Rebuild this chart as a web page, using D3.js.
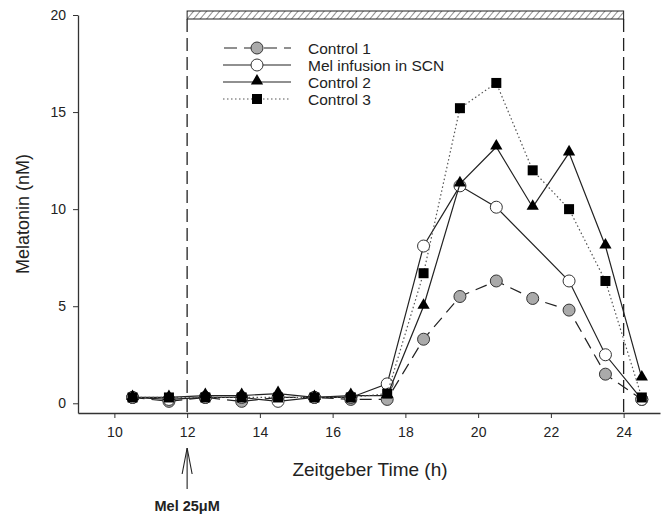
<!DOCTYPE html>
<html>
<head>
<meta charset="utf-8">
<script src="https://cdn.jsdelivr.net/npm/d3@7"></script>
<style>
  body { margin: 0; background: #fff; }
  svg text { font-family: "Liberation Sans", Arial, sans-serif; fill: #222; }
</style>
</head>
<body>
<svg id="chart" width="664" height="520"></svg>
<script>
// time points (ZT, h)
const hours = [10.5, 11.5, 12.5, 13.5, 14.5, 15.5, 16.5, 17.5, 18.5, 19.5, 20.5, 21.5, 22.5, 23.5, 24.5];

// melatonin (nM) per series, null = no sample
const control1 = [0.3, 0.1, 0.3, 0.1, 0.3, 0.3, 0.2, 0.2, 3.3, 5.5, 6.3, 5.4, 4.8, 1.5, 0.2];
const melSCN   = [0.3, 0.2, 0.3, 0.3, 0.1, 0.3, 0.3, 1.0, 8.1, 11.2, 10.1, null, 6.3, 2.5, 0.2];
const control2 = [0.3, 0.3, 0.4, 0.4, 0.5, 0.3, 0.4, 0.4, 5.0, 11.3, 13.2, 10.1, 12.9, 8.1, 1.3];
const control3 = [0.3, 0.3, 0.3, 0.3, 0.3, 0.3, 0.3, 0.5, 6.7, 15.2, 16.5, 12.0, 10.0, 6.3, 0.3];

const seriesNames = ["Control 1", "Mel infusion in SCN", "Control 2", "Control 3"];
const xTicks = [10, 12, 14, 16, 18, 20, 22, 24];
const yTicks = [0, 5, 10, 15, 20];
const darkPeriod = [12, 24];

const svg = d3.select("#chart");

let x = d3.scaleLinear().domain([9, 25]).range([78, 660]);
let y = d3.scaleLinear().domain([-0.5, 20]).range([413, 15]);

// style per series
let styles = [
  { values: control1, dash: "12,7", symbol: "circle", fill: "#aaa" },
  { values: melSCN, dash: null, symbol: "circle", fill: "#fff" },
  { values: control2, dash: null, symbol: "triangle", fill: "#000" },
  { values: control3, dash: "1.5,2.5", symbol: "square", fill: "#000" }
];

// hatch pattern for dark phase bar
let defs = svg.append("defs");
let pat = defs.append("pattern")
  .attr("id", "hatch")
  .attr("patternUnits", "userSpaceOnUse")
  .attr("width", 5).attr("height", 5)
  .attr("patternTransform", "rotate(40)");
pat.append("rect").attr("width", 5).attr("height", 5).attr("fill", "#fff");
pat.append("line").attr("x1", 0).attr("y1", 0).attr("x2", 0).attr("y2", 5)
  .attr("stroke", "#333").attr("stroke-width", 1.1);

// axes
let xAxis = svg.append("g")
  .attr("transform", "translate(0," + y(-0.5) + ")")
  .call(d3.axisBottom(x).tickValues(xTicks).tickSize(5).tickPadding(9).tickSizeOuter(0));
let yAxis = svg.append("g")
  .attr("transform", "translate(" + x(9) + ",0)")
  .call(d3.axisLeft(y).tickValues(yTicks).tickSize(5).tickPadding(7).tickSizeOuter(0));

[xAxis, yAxis].forEach(a => {
  a.select(".domain").attr("stroke", "#333").attr("stroke-width", 1.3);
  a.selectAll(".tick line").attr("stroke", "#333");
  a.selectAll("text").style("font-size", "14px").attr("fill", "#222");
});

// dashed vertical lines at lights off / on
svg.selectAll(".vline")
  .data(darkPeriod)
  .enter()
  .append("line")
  .attr("x1", d => x(d)).attr("x2", d => x(d))
  .attr("y1", 19).attr("y2", y(-0.5))
  .attr("stroke", "#222")
  .attr("stroke-width", 1.3)
  .attr("stroke-dasharray", "13,6");

// hatched bar
svg.append("rect")
  .attr("x", x(darkPeriod[0]))
  .attr("y", 11)
  .attr("width", x(darkPeriod[1]) - x(darkPeriod[0]))
  .attr("height", 8)
  .attr("fill", "url(#hatch)")
  .attr("stroke", "#222")
  .attr("stroke-width", 1);

// symbol helper
function drawSymbol(g, type, fill, cx, cy) {
  if (type === "circle") {
    g.append("circle").attr("cx", cx).attr("cy", cy).attr("r", 6)
      .attr("fill", fill).attr("stroke", "#333").attr("stroke-width", 1);
  } else if (type === "triangle") {
    g.append("path")
      .attr("d", d3.symbol().type(d3.symbolTriangle).size(65)())
      .attr("transform", "translate(" + cx + "," + (cy - 1) + ")")
      .attr("fill", fill);
  } else {
    g.append("rect").attr("x", cx - 5).attr("y", cy - 5)
      .attr("width", 10).attr("height", 10).attr("fill", fill);
  }
}

let line = d3.line()
  .x(d => x(d.t))
  .y(d => y(d.v));

// lines and markers
styles.forEach(s => {
  let pts = hours.map((t, i) => ({ t: t, v: s.values[i] })).filter(d => d.v !== null);
  let g = svg.append("g");
  g.append("path")
    .datum(pts)
    .attr("d", line)
    .attr("fill", "none")
    .attr("stroke", s.dash === "1.5,2.5" ? "#555" : "#222")
    .attr("stroke-width", 1.2)
    .attr("stroke-dasharray", s.dash);
  pts.forEach(d => drawSymbol(g, s.symbol, s.fill, x(d.t), y(d.v)));
});

// legend
let legend = svg.append("g");
styles.forEach((s, i) => {
  let ly = 48 + i * 17;
  legend.append("line")
    .attr("x1", 223).attr("x2", 291)
    .attr("y1", ly).attr("y2", ly)
    .attr("stroke", s.dash === "1.5,2.5" ? "#555" : "#222")
    .attr("stroke-width", 1.2)
    .attr("stroke-dasharray", s.dash === "12,7" ? "13,7" : s.dash)
    .attr("stroke-dashoffset", s.dash === "12,7" ? -1 : 0);
  drawSymbol(legend, s.symbol, s.fill, 257, ly);
  legend.append("text")
    .attr("x", 308).attr("y", ly + 5.5)
    .style("font-size", "15.5px")
    .text(seriesNames[i]);
});

// axis titles
svg.append("text")
  .attr("x", 370).attr("y", 476)
  .attr("text-anchor", "middle")
  .style("font-size", "19px")
  .text("Zeitgeber Time (h)");

svg.append("text")
  .attr("transform", "translate(29,214) rotate(-90)")
  .attr("text-anchor", "middle")
  .style("font-size", "18px")
  .text("Melatonin (nM)");

// infusion arrow
let ax = x(12);
svg.append("line").attr("x1", ax).attr("x2", ax).attr("y1", 448).attr("y2", 489)
  .attr("stroke", "#222").attr("stroke-width", 1.1);
svg.append("path")
  .attr("d", "M" + (ax - 5) + ",474 L" + ax + ",448 L" + (ax + 5) + ",474")
  .attr("fill", "none").attr("stroke", "#222").attr("stroke-width", 1.1);
svg.append("text")
  .attr("x", ax).attr("y", 511)
  .attr("text-anchor", "middle")
  .style("font-size", "14.5px")
  .style("font-weight", "bold")
  .text("Mel 25μM");
</script>
</body>
</html>
